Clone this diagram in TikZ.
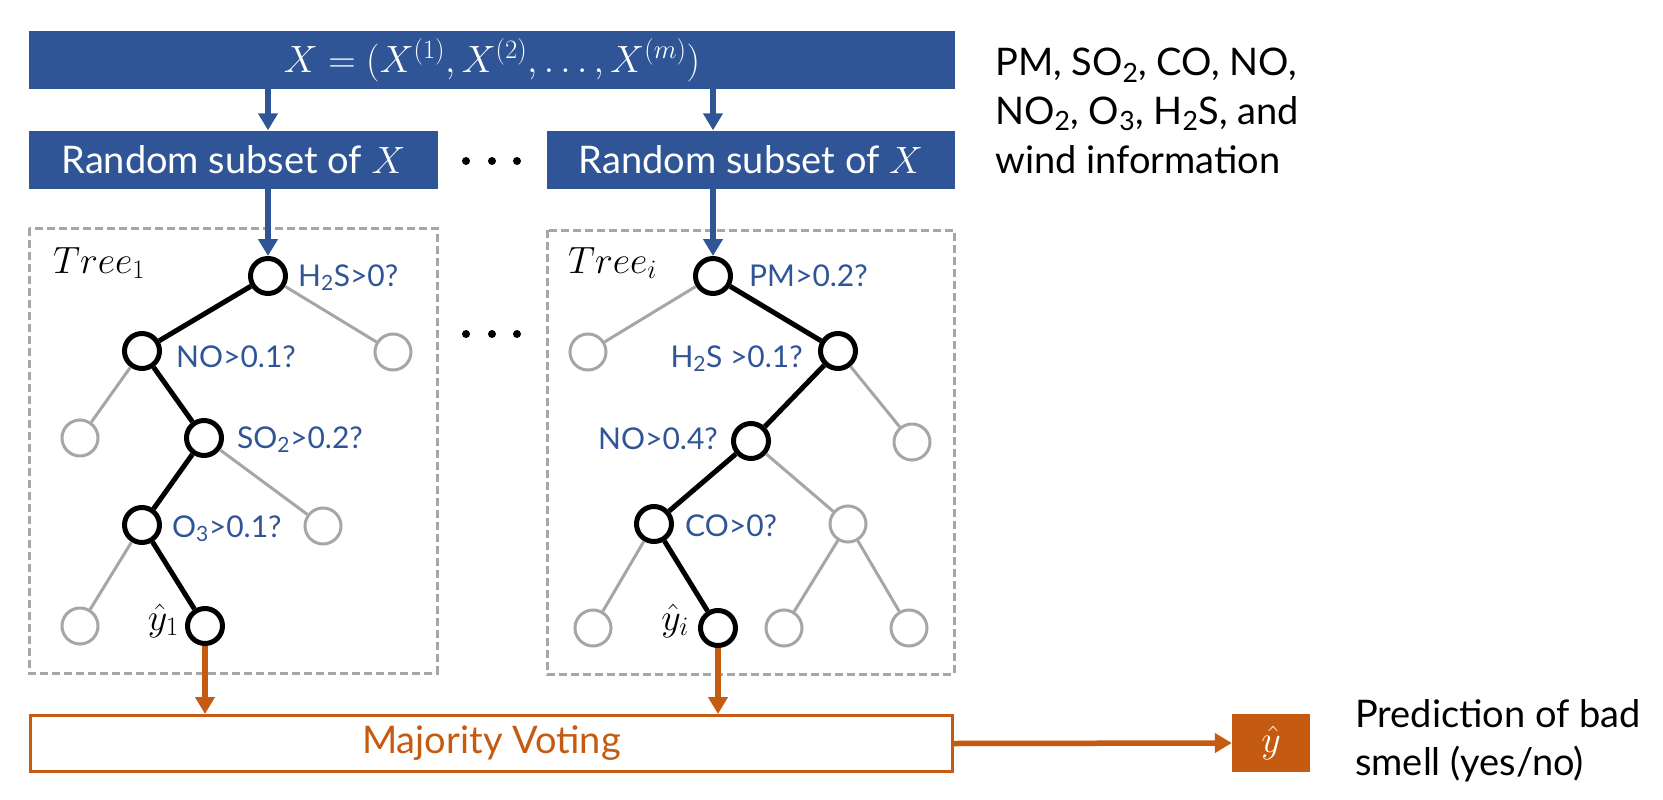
\documentclass[tikz,border=0pt]{standalone}
\usepackage{fix-cm}
\usepackage{fontspec}
\setmainfont{Lato}
\usetikzlibrary{arrows.meta}
\definecolor{myblue}{HTML}{2F5597}
\definecolor{myorange}{HTML}{C55A11}
\definecolor{mygray}{HTML}{A6A6A6}
\newcommand\subtxt[1]{\textsubscript{#1}}
\begin{document}
\begin{tikzpicture}[x=1pt,y=-1pt,
  bigf/.style={font=\fontsize{38}{46}\selectfont},
  bluebar/.style={fill=myblue, text=white, inner sep=0pt, minimum height=58pt, bigf},
  barrow/.style={draw=myblue, line width=5.5pt, -{Triangle[length=17pt,width=19pt]}},
  oarrow/.style={draw=myorange, line width=5.5pt, -{Triangle[length=17pt,width=19pt]}},
  dbox/.style={draw=mygray, line width=3pt, dash pattern=on 8pt off 4pt},
  bn/.style={circle, draw=black, line width=5pt, minimum size=35pt, inner sep=0pt, fill=white},
  gn/.style={circle, draw=mygray, line width=3pt, minimum size=36pt, inner sep=0pt, fill=white},
  be/.style={draw=black, line width=5pt},
  ge/.style={draw=mygray, line width=3pt},
  lab/.style={text=myblue, font=\fontsize{30}{36}\selectfont, inner sep=0pt},
  txt/.style={inner sep=0pt, bigf}]
\useasboundingbox (0,0) rectangle (1663,800);

% top bars
\node[bluebar, minimum width=926pt] (top) at (492,60) {$X=(X^{(1)},X^{(2)},\dots,X^{(m)})$};
\node[bluebar, minimum width=409pt] (sub1) at (233.5,159.5) {Random subset of $X$};
\node[bluebar, minimum width=408pt] (sub2) at (751,159.5) {Random subset of $X$};
\foreach \x in {466,492,517} {\fill (\x,161) circle (4pt); \fill (\x,334) circle (4pt);}

% right text
\node[txt, anchor=base west] (info1) at (995,76) {PM, SO\subtxt{2}, CO, NO,};
\node[txt, anchor=base west] (info2) at (995,124) {NO\subtxt{2}, O\subtxt{3}, H\subtxt{2}S, and};
\node[txt, anchor=base west] (info3) at (995,173) {wind information};

% dashed boxes
\draw[dbox] (29,228) rectangle (437,673);
\draw[dbox] (547,230) rectangle (954,674);

% tree 1 nodes
\node[bn] (r1) at (268,276) {};
\node[gn] (g1a) at (393,352) {};
\node[bn] (a1) at (142,351) {};
\node[gn] (g1b) at (80,438) {};
\node[bn] (b1) at (204,438) {};
\node[gn] (g1c) at (323,526) {};
\node[bn] (c1) at (142,525) {};
\node[gn] (g1d) at (80,626) {};
\node[bn] (d1) at (205,626) {};
\draw[be] (r1) -- (a1); \draw[be] (a1) -- (b1); \draw[be] (b1) -- (c1); \draw[be] (c1) -- (d1);
\draw[ge] (r1) -- (g1a); \draw[ge] (a1) -- (g1b); \draw[ge] (b1) -- (g1c); \draw[ge] (c1) -- (g1d);

\node[txt, anchor=base west] (t1) at (53,273) {$Tree_1$};
\node[lab, anchor=base west] (l1a) at (298,286) {H\subtxt{2}S>0?};
\node[lab, anchor=base west] (l1b) at (176,367) {NO>0.1?};
\node[lab, anchor=base west] (l1c) at (237,448) {SO\subtxt{2}>0.2?};
\node[lab, anchor=base west] (l1d) at (172,537) {O\subtxt{3}>0.1?};
\node[txt, anchor=base east] (y1) at (179,630) {$\hat{y}_1$};

% tree i nodes
\node[bn] (ri) at (713,276) {};
\node[gn] (gia) at (588,352) {};
\node[bn] (qi) at (838,351) {};
\node[gn] (gib) at (912,442) {};
\node[bn] (si) at (751,441) {};
\node[gn] (gic) at (848,524) {};
\node[bn] (ti) at (654,524) {};
\node[gn] (gid) at (593,628) {};
\node[bn] (ui) at (718,628) {};
\node[gn] (gie) at (784,628) {};
\node[gn] (gif) at (909,628) {};
\draw[be] (ri) -- (qi); \draw[be] (qi) -- (si); \draw[be] (si) -- (ti); \draw[be] (ti) -- (ui);
\draw[ge] (ri) -- (gia); \draw[ge] (qi) -- (gib); \draw[ge] (si) -- (gic); \draw[ge] (ti) -- (gid);
\draw[ge] (gic) -- (gie); \draw[ge] (gic) -- (gif);

\node[txt, anchor=base west] (ti2) at (568,273) {$Tree_i$};
\node[lab, anchor=base west] (lia) at (749,286) {PM>0.2?};
\node[lab, anchor=base east] (lib) at (803,367) {H\subtxt{2}S >0.1?};
\node[lab, anchor=base east] (lic) at (718,449) {NO>0.4?};
\node[lab, anchor=base west] (lid) at (685,536) {CO>0?};
\node[txt, anchor=base east] (yi) at (689,630) {$\hat{y}_i$};

% blue arrows
\draw[barrow] (top.south -| r1) -- (sub1.north -| r1);
\draw[barrow] (top.south -| ri) -- (sub2.north -| ri);
\draw[barrow] (sub1.south -| r1) -- (r1);
\draw[barrow] (sub2.south -| ri) -- (ri);

% bottom
\node[draw=myorange, line width=3pt, minimum width=922pt, minimum height=56pt, text=myorange, txt] (maj) at (491.5,743.5) {Majority Voting};
\node[fill=myorange, minimum width=78pt, minimum height=58pt, text=white, inner sep=0pt, bigf] (yh) at (1271,743) {$\hat{y}$};
\draw[oarrow] (d1) -- (d1 |- maj.north);
\draw[oarrow] (ui) -- (ui |- maj.north);
\draw[oarrow] (maj.east) -- (yh.west);
\node[txt, anchor=base west] (pred1) at (1355,727) {Prediction of bad};
\node[txt, anchor=base west] (pred2) at (1355,775) {smell (yes/no)};
\end{tikzpicture}
\end{document}
